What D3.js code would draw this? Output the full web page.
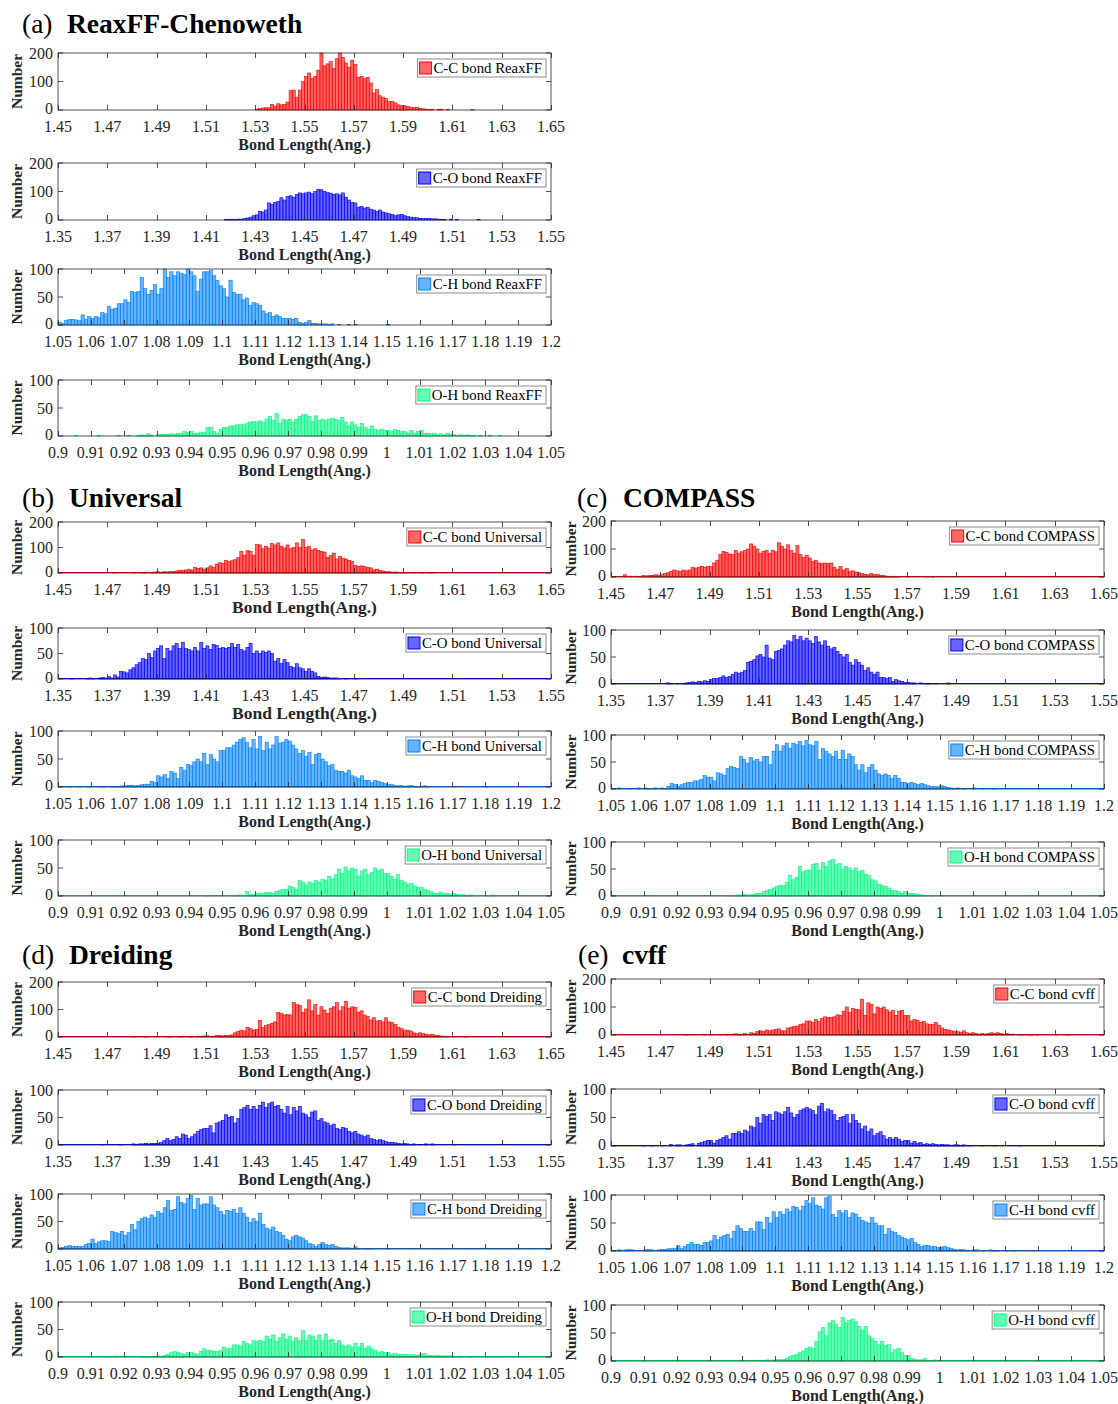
<!DOCTYPE html>
<html>
<head>
<meta charset="utf-8">
<script src="https://cdn.jsdelivr.net/npm/d3@7"></script>
<style>
  body { margin: 0; background: #fff; }
</style>
</head>
<body>
<div id="chart"></div>
<script>
// ---------------------------------------------------------------------------
//  data: bin counts (first bin edge in the *Starts arrays)
// ---------------------------------------------------------------------------

// x tick labels
var ccTicks = [1.45, 1.47, 1.49, 1.51, 1.53, 1.55, 1.57, 1.59, 1.61, 1.63, 1.65];
var coTicks = [1.35, 1.37, 1.39, 1.41, 1.43, 1.45, 1.47, 1.49, 1.51, 1.53, 1.55];
var chTicks = [1.05, 1.06, 1.07, 1.08, 1.09, 1.1, 1.11, 1.12, 1.13, 1.14, 1.15, 1.16, 1.17, 1.18, 1.19, 1.2];
var ohTicks = [0.9, 0.91, 0.92, 0.93, 0.94, 0.95, 0.96, 0.97, 0.98, 0.99, 1, 1.01, 1.02, 1.03, 1.04, 1.05];

// (a) ReaxFF-Chenoweth
var reaxStarts = [1.53, 1.41, 1.05, 0.90];
var ccReax = [3,5,7,8,8,20,14,22, 18,20,28,68,70,45,70,100, 118,130,110,118,140,200,155,162,
  170,145,180,200,185,165,150,175, 160,115,118,110,115,95,60,72, 50,45,40,30,30,25,18,15,
  15,12,10,8,10,6,4,3, 2,3,0,2,3,0,2,0, 0,0,0,0,0,0,2];
var coReax = [0,0,0,0,0,0,2,2, 3,2,3,3,5,7,10,15, 18,30,28,35,60,55,62,65, 78,70,82,85,80,90,95,92,
  95,98,92,100,108,106,100,96, 94,90,92,88,95,80,70,62, 60,45,48,42,45,38,35,30, 35,28,25,22,20,15,18,20,
  15,12,10,8,8,6,5,5, 5,4,4,3,2,2,0,3, 0,2,0,0,0,0,0,0, 2];
var chReax = [5,3,8,10,10,9,8,18,10,15, 12,15,13,22,20,33,28,30,38,38, 45,40,60,58,60,85,65,55,62,72,
  55,65,100,85,95,88,95,92,90,100, 95,88,60,82,95,95,98,88,80,70, 65,50,80,58,55,55,45,48,35,40,
  38,35,25,20,22,15,18,15,12,12, 12,10,12,5,3,5,8,3,3,2, 2,2,1,2,0,1,0,0,1,0, 1,0,0,0,0,0,0,0,0,0, 1];
var ohReax = [0,0,0,0,0,1,0,0,0,0, 0,0,1,0,0,0,0,0,1,0, 0,1,0,0,1,2,1,4,1,0, 2,3,3,3,4,3,5,5,8,6,
  8,5,5,7,6,15,15,8,5,12, 15,15,18,18,20,20,20,22,25,26, 25,27,25,30,35,28,40,22,30,28,
  30,25,30,35,38,38,35,26,36,28, 30,28,30,32,30,28,33,25,18,25, 20,15,22,15,12,18,12,10,12,10,
  10,8,12,10,8,8,5,10,5,8, 10,5,5,4,5,3,4,2,5,3, 3,1,2,1,2,1,1,0,1,0, 0,1,0,0,1];

// (b) Universal
var univStarts = [1.47, 1.35, 1.05, 0.94];
var ccUniv = [0,0,1,0,0,0,0,0, 2,0,1,2,3,0,1,4, 5,3,5,4,6,5,8,10, 10,12,15,12,22,18,20,15,
  20,28,22,35,40,38,50,45, 48,52,60,85,70,88,85,70, 112,110,95,105,98,115,110,118,
  105,98,110,95,100,118,100,132, 100,105,90,95,88,85,82,62, 68,78,55,65,58,55,50,45,
  30,25,28,25,22,20,12,15, 10,8,5,5,3,4,3,2, 2,1,0,3,0,1,2,0, 2,1];
var coUniv = [0,0,0,0,1,0,0,0, 0,1,2,1,0,2,3,2, 5,2,8,4,15,14,12,18, 22,28,32,40,38,50,42,55,
  60,65,40,60,55,65,70,60, 72,60,58,55,62,55,72,60, 65,58,68,66,60,62,60,62, 70,62,68,58,55,62,70,50,
  55,50,55,52,55,50,35,40, 30,38,32,25,22,30,22,20, 15,20,15,12,5,3,4,3, 2,2,2,1,0,1,0,0, 1];
var chUniv = [0,0,0,1,0,0,1,0,0,1, 0,0,1,1,1,0,1,1,1,2, 2,3,3,2,3,4,5,5,10,8,
  20,18,22,15,28,25,15,35,30,40, 38,45,50,45,60,40,58,50,45,65, 65,70,70,75,80,85,88,80,70,85,
  68,90,65,80,68,75,90,78,80,85, 82,75,68,60,65,55,62,40,58,60, 50,45,38,40,30,28,28,25,30,20,
  18,15,20,12,12,8,12,10,8,6, 4,5,3,2,3,1,2,3,1,1, 1,2,1,0,0,0,0,0,0,0, 1,0,0,0,0,0,0,0,0,0, 1];
var ohUniv = [0,0,0,0,0,1,0,0,0,0, 1,0,0,1,0,2,1,8,2,3, 4,5,5,6,6,5,8,10,12,12,
  18,15,12,28,25,20,25,22,28,25, 30,28,35,30,38,48,40,52,45,50, 48,35,45,48,38,42,50,45,48,40,
  40,35,30,38,28,25,20,22,18,15, 15,12,10,8,5,5,6,4,5,3, 5,3,2,2,1,2,0,1,0,0, 1,0,2];

// (c) COMPASS
var compStarts = [1.45, 1.37, 1.05, 0.93];
var ccComp = [0,0,0,0,8,0,3,0, 3,2,5,4,5,6,8,7, 10,12,15,20,25,22,20,25, 22,25,35,32,35,38,35,38,
  38,50,60,80,92,88,82,80, 95,85,90,95,100,118,110,100, 85,92,95,85,95,90,122,110,
  100,115,95,85,112,80,70,78, 68,55,60,50,48,50,48,50, 35,28,38,25,30,20,22,18,
  15,12,10,8,12,8,10,6, 5,3,2,3,2,1,0,0, 1,0,0,0,0,0,2,0, 1];
var coComp = [0,0,2,1,0,1,0,1, 2,3,4,3,5,4,6,5, 8,10,10,12,15,12,14,18, 22,20,22,25,40,42,45,52,
  55,50,72,48,45,60,62,65, 72,80,78,90,82,88,80,85, 80,75,88,78,72,80,70,65,
  68,60,55,50,55,40,35,45, 40,35,25,30,22,18,22,12, 12,10,12,5,8,6,5,3, 3,2,2,0,2,0,1,1, 0,1,0,0,0,2];
var chComp = [0,0,2,0,0,1,0,0,2,0, 2,1,0,2,0,2,1,5,10,8, 5,8,10,12,12,15,15,18,25,22,
  22,15,30,28,25,38,42,40,38,60, 55,48,58,52,55,50,60,60,45,70, 82,70,80,85,75,85,82,88,80,90,
  82,80,88,55,75,70,65,60,70,55, 72,55,65,60,45,35,45,30,40,45, 35,28,25,28,25,20,25,20,12,12,
  10,12,10,8,10,8,6,5,5,4, 6,5,3,2,1,2,0,1,0,0, 2,0,0,1,0,0,1,0,0,0, 0,0,0,0,0,0,0,0,0,0, 1];
var ohComp = [0,0,0,0,0,1,0,1,2,1, 3,2,2,3,5,5,8,10,12,15, 18,20,20,25,38,30,35,55,45,48,
  48,58,60,48,62,55,65,68,58,60, 50,55,52,48,52,45,48,40,38,30, 28,22,20,18,15,10,10,8,5,8,
  5,5,4,3,2,1,0,1,0,0, 1];

// (d) Dreiding
var dreiStarts = [1.48, 1.36, 1.05, 0.91];
var ccDrei = [1,0,0,0,1,0,0,0, 2,0,0,1,2,0,0,2, 3,0,2,3,0,3,2,4, 4,3,3,5,5,4,5,5,
  8,15,20,25,22,35,30,25, 28,60,35,42,45,50,55,90, 85,80,82,80,125,118,115,90,
  102,135,95,118,80,110,98,85, 105,110,125,95,110,130,105,110, 108,90,95,80,75,62,70,58,
  60,55,70,55,52,45,35,30, 25,25,22,15,12,15,12,10, 8,10,5,5,3,3,2,0, 2,0,0,0,2];
var coDrei = [0,0,0,0,0,0,1,0, 0,0,0,0,1,0,0,0, 2,1,2,2,3,2,3,3, 3,5,8,12,8,10,15,12,
  20,18,12,15,20,25,28,30, 30,35,22,40,42,45,55,50, 52,40,48,65,68,72,65,70,
  65,72,78,68,75,78,70,72, 65,58,70,55,68,62,70,58, 55,50,60,62,45,48,42,40,
  35,38,30,28,32,30,25,22, 25,20,18,15,18,12,10,8, 10,8,6,5,5,4,3,2, 3,2,1,2,0,1,0,2, 0,2,0,0,0,0,0,0, 1];
var chDrei = [2,3,5,6,5,5,5,5,8,10, 18,10,13,15,15,14,32,30,28,32, 25,30,45,35,50,55,58,55,62,58,
  68,65,75,88,70,72,95,85,82,92, 98,72,92,80,82,82,95,80,75,68, 62,70,68,72,65,75,65,58,48,55,
  50,65,45,38,35,40,32,30,25,18, 15,22,25,22,20,15,10,8,5,8, 12,8,6,8,5,3,2,2,2,1, 4,1,0,1,1,1,0,0,0,0, 1];
var ohDrei = [0,0,0,0,0,1,0,1,0,0, 1,0,0,0,0,1,1,1,1,1, 2,1,3,5,8,10,8,6,5,8,
  8,6,5,10,15,12,12,10,10,12, 18,15,15,22,22,20,28,25,22,30, 28,30,28,38,32,40,28,35,42,32,
  38,28,35,30,48,30,40,38,30,40, 30,42,30,32,25,30,22,20,22,18, 25,18,25,15,20,15,12,8,10,8,
  8,5,6,5,5,5,5,4,4,3, 5,6,3,3,2,3,2,2,2,2, 1,0,1,0,0,1,0,0,0,0, 1,0,0,1];

// (e) cvff
var cvffStarts = [1.48, 1.36, 1.05, 0.94];
var ccCvff = [1,0,0,0,0,0,3,0, 1,0,0,2,0,3,0,3, 4,3,2,5,0,8,6,12, 15,12,18,15,18,20,22,15,
  15,25,28,30,32,38,40,50, 50,45,55,48,60,65,62,62, 65,72,70,85,100,80,95,92,
  90,128,70,115,110,75,100,95, 100,90,82,88,70,85,88,70, 70,50,55,52,45,48,40,38,
  38,45,35,25,20,18,15,12, 12,10,15,8,5,8,5,3, 5,3,5,8,5,8,5,3, 5,2,3,0,2,2,0,2,
  2,0,1,0,0,0,0,0, 2,0,0,0,1];
var coCvff = [0,0,1,0,0,1,0,0, 1,0,0,3,0,2,2,0, 2,3,4,0,5,6,8,10, 10,5,10,12,15,18,12,22,
  22,25,22,28,25,35,32,50, 40,55,52,55,45,60,58,55, 60,68,58,50,55,62,65,68,
  65,62,55,70,75,60,65,62, 55,45,50,52,55,40,55,45, 40,30,35,25,30,18,22,25,
  18,12,15,12,15,12,8,10, 10,5,8,5,6,3,4,3, 4,3,2,3,2,2,1,2, 2,1,2,0,1,0,0,0,
  1,0,0,0,1,0,0,0, 0,0,0,0,1];
var chCvff = [0,0,2,0,2,3,2,0,0,0, 2,3,2,0,2,3,3,4,4,5, 10,5,8,12,15,12,12,10,15,15,
  18,28,20,25,28,30,22,35,45,40, 35,35,40,35,52,52,38,60,50,70, 60,70,65,75,70,80,78,72,80,90,
  85,95,82,80,75,95,98,65,60,72, 68,72,60,68,66,60,55,52,50,60, 50,45,45,30,40,35,33,28,25,22,
  20,22,15,12,8,10,10,8,8,6, 6,8,6,5,3,2,3,2,1,0, 2,2,0,1,0,2,1,1,0,0, 1,0,1,0,0,0,0,0,1];
var ohCvff = [0,0,0,0,0,1,0,2,0,2, 3,3,3,5,8,10,12,15,18,22, 25,22,35,52,60,45,68,72,65,60,
  78,68,72,75,70,62,55,62,45,40, 35,30,35,28,30,15,20,22,15,10, 10,5,3,2,2,5,1,0,2];

// ---------------------------------------------------------------------------
//  bond types and layout
// ---------------------------------------------------------------------------

var bonds = [
  {name: 'C-C', domain: [1.45, 1.65], ticks: ccTicks, bin: 0.00125, color: '#ff0000'},
  {name: 'C-O', domain: [1.35, 1.55], ticks: coTicks, bin: 0.00125, color: '#0000ff'},
  {name: 'C-H', domain: [1.05, 1.2],  ticks: chTicks, bin: 0.001,   color: '#0080ff'},
  {name: 'O-H', domain: [0.9, 1.05],  ticks: ohTicks, bin: 0.001,   color: '#00ff80'}
];

var panels = [
  {label: '(a)', name: 'ReaxFF-Chenoweth', tag: 'ReaxFF', series: [ccReax, coReax, chReax, ohReax], starts: reaxStarts,
   x0: 58, x1: 551, labelX: 17, titleX: 22, nameX: 67, titleY: 33, ymax: [200, 200, 100, 100],
   tops: [53, 163, 269, 380], bots: [110, 220, 325, 436], xlabSize: [16, 16, 16, 16], baseline: false},
  {label: '(b)', name: 'Universal', tag: 'Universal', series: [ccUniv, coUniv, chUniv, ohUniv], starts: univStarts,
   x0: 58, x1: 551, labelX: 17, titleX: 22, nameX: 69, titleY: 507, ymax: [200, 100, 100, 100],
   tops: [522, 628, 731, 840], bots: [573, 679, 787, 896], xlabSize: [17.5, 17.5, 16, 16], baseline: true},
  {label: '(c)', name: 'COMPASS', tag: 'COMPASS', series: [ccComp, coComp, chComp, ohComp], starts: compStarts,
   x0: 611, x1: 1104, labelX: 571, titleX: 577, nameX: 623, titleY: 507, ymax: [200, 100, 100, 100],
   tops: [521, 630, 735, 842], bots: [577, 684, 789, 896], xlabSize: [16, 16, 16, 16], baseline: true},
  {label: '(d)', name: 'Dreiding', tag: 'Dreiding', series: [ccDrei, coDrei, chDrei, ohDrei], starts: dreiStarts,
   x0: 58, x1: 551, labelX: 17, titleX: 22, nameX: 69, titleY: 964, ymax: [200, 100, 100, 100],
   tops: [982, 1090, 1194, 1302], bots: [1037, 1145, 1249, 1357], xlabSize: [16, 16, 16, 16], baseline: true},
  {label: '(e)', name: 'cvff', tag: 'cvff', series: [ccCvff, coCvff, chCvff, ohCvff], starts: cvffStarts,
   x0: 611, x1: 1104, labelX: 571, titleX: 578, nameX: 622, titleY: 964, ymax: [200, 100, 100, 100],
   tops: [979, 1089, 1195, 1305], bots: [1035, 1146, 1251, 1361], xlabSize: [16, 16, 16, 16], baseline: true}
];

var axis_color = '#262626';
var tick_len = 5;
var tick_font = 16;
var fmt = (v) => String(+v.toFixed(2));

// ---------------------------------------------------------------------------
//  drawing
// ---------------------------------------------------------------------------

var svg = d3.select('#chart').append('svg')
    .attr('width', 1118).attr('height', 1404)
    .style('font-family', '"Liberation Serif", "Times New Roman", serif');

svg.append('rect').attr('width', 1118).attr('height', 1404).attr('fill', '#fff');

panels.forEach(function(p) {
  var title = svg.append('text').attr('x', p.titleX).attr('y', p.titleY)
      .attr('font-size', 27.5).attr('fill', '#000');
  title.append('tspan').text(p.label);
  title.append('tspan').attr('x', p.nameX).attr('font-weight', 'bold').text(p.name);

  bonds.forEach(function(b, k) {
    var values = p.series[k];
    var start = p.starts[k];
    var top = p.tops[k], bot = p.bots[k];
    var g = svg.append('g');

    var x = d3.scaleLinear().domain(b.domain).range([p.x0, p.x1]);
    var y = d3.scaleLinear().domain([0, p.ymax[k]]).range([bot, top]);

    var bins = values.map((v, i) => ({x0: start + i * b.bin, x1: start + (i + 1) * b.bin, n: v}))
                     .filter(d => d.n > 0);

    if (p.baseline) {
      g.append('line').attr('x1', p.x0).attr('x2', p.x1).attr('y1', bot - 0.5).attr('y2', bot - 0.5)
        .attr('stroke', b.color).attr('stroke-width', 1);
    }

    g.selectAll('.bar').data(bins).enter().append('rect')
      .attr('class', 'bar')
      .attr('x', d => x(d.x0))
      .attr('width', d => x(d.x1) - x(d.x0))
      .attr('y', d => y(Math.min(d.n, p.ymax[k])))
      .attr('height', d => y(0) - y(Math.min(d.n, p.ymax[k])))
      .attr('fill', b.color).attr('fill-opacity', 0.6)
      .attr('stroke', b.color).attr('stroke-width', 0.6);

    // box
    g.append('rect').attr('x', p.x0).attr('y', top).attr('width', p.x1 - p.x0).attr('height', bot - top)
      .attr('fill', 'none').attr('stroke', axis_color).attr('stroke-width', 0.8);

    // x ticks, inside, bottom and top
    b.ticks.forEach(function(t) {
      var xx = Math.round(x(t)) + 0.5;
      g.append('line').attr('x1', xx).attr('x2', xx).attr('y1', bot).attr('y2', bot - tick_len)
        .attr('stroke', axis_color).attr('stroke-width', 0.8);
      g.append('line').attr('x1', xx).attr('x2', xx).attr('y1', top).attr('y2', top + tick_len)
        .attr('stroke', axis_color).attr('stroke-width', 0.8);
      g.append('text').attr('x', x(t)).attr('y', bot + 22).attr('text-anchor', 'middle')
        .attr('font-size', tick_font).attr('fill', axis_color).text(fmt(t));
    });

    // y ticks
    var yticks = [0, p.ymax[k] / 2, p.ymax[k]];
    yticks.forEach(function(t) {
      var yy = y(t);
      g.append('line').attr('x1', p.x0).attr('x2', p.x0 + tick_len).attr('y1', yy).attr('y2', yy)
        .attr('stroke', axis_color).attr('stroke-width', 0.8);
      g.append('line').attr('x1', p.x1).attr('x2', p.x1 - tick_len).attr('y1', yy).attr('y2', yy)
        .attr('stroke', axis_color).attr('stroke-width', 0.8);
      g.append('text').attr('x', p.x0 - 5).attr('y', t === 0 ? yy + 4 : yy + 5.5).attr('text-anchor', 'end')
        .attr('font-size', tick_font).attr('fill', axis_color).text(t);
    });

    // axis labels
    g.append('text').attr('x', (p.x0 + p.x1) / 2).attr('y', bot + 40).attr('text-anchor', 'middle')
      .attr('font-size', p.xlabSize[k]).attr('font-weight', 'bold').attr('fill', axis_color).text('Bond Length(Ang.)');
    g.append('text').attr('transform', `translate(${p.labelX + 5},${(top + bot) / 2}) rotate(-90)`)
      .attr('text-anchor', 'middle').attr('font-size', 15.5).attr('font-weight', 'bold')
      .attr('fill', axis_color).text('Number');

    // legend
    var lg = g.append('g');
    var box = lg.append('rect').attr('fill', '#fff').attr('stroke', '#8c8c8c').attr('stroke-width', 1);
    var label = lg.append('text').attr('font-size', 14.8).attr('fill', '#000')
      .text(`${b.name} bond ${p.tag}`);
    var tw = label.node().getComputedTextLength();
    var lw = tw + 20, lx = p.x1 - 5 - lw, ly = top + 6;
    box.attr('x', lx).attr('y', ly).attr('width', lw).attr('height', 18);
    lg.append('rect').attr('x', lx + 2).attr('y', ly + 3).attr('width', 12).attr('height', 12)
      .attr('fill', b.color).attr('fill-opacity', 0.6).attr('stroke', b.color).attr('stroke-width', 1);
    label.attr('x', lx + 16).attr('y', ly + 14);
  });
});
</script>
</body>
</html>
